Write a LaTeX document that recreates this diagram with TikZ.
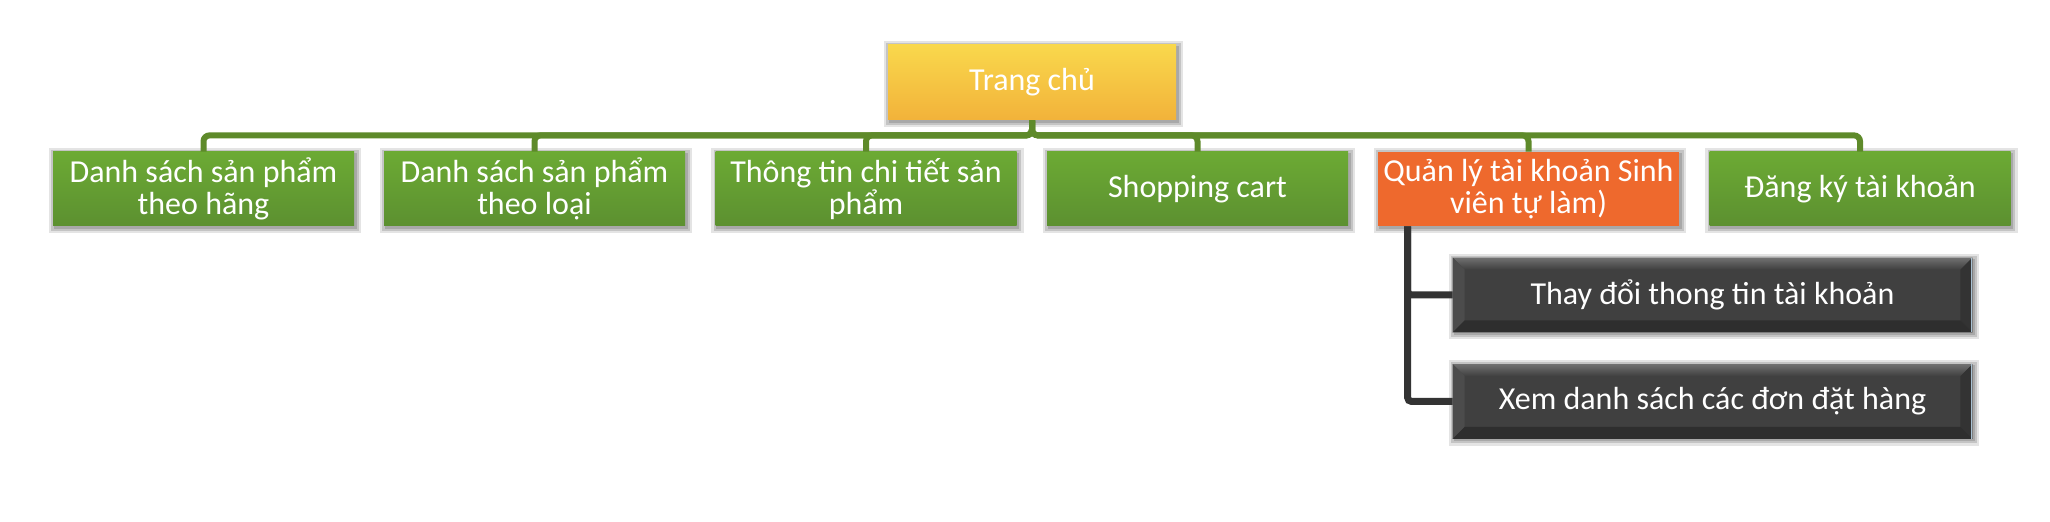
\documentclass[tikz,border=0pt]{standalone}
\usepackage{fontspec}
\setmainfont{Carlito}
\usetikzlibrary{calc}
\pgfdeclarelayer{background}
\pgfsetlayers{background,main}
\definecolor{gtop}{HTML}{6CAA34}
\definecolor{gbot}{HTML}{5C9030}
\definecolor{ytop}{HTML}{F9D84C}
\definecolor{ybot}{HTML}{F2B23A}
\definecolor{orng}{HTML}{EE692D}
\definecolor{dbase}{HTML}{404040}
\definecolor{gline}{HTML}{5E8A2A}
\definecolor{dline}{HTML}{333333}
\definecolor{shA}{HTML}{E4E4E4}
\definecolor{shB}{HTML}{C4C4C4}
\definecolor{shC}{HTML}{A8A8A8}
\tikzset{
  box/.style={rectangle, inner sep=0pt, minimum width=150.5pt, minimum height=37pt,
    align=center, text=white, font=\fontsize{16}{15.8}\selectfont},
  topbox/.style={box, minimum width=144pt, minimum height=37.5pt, top color=ytop, bottom color=ybot},
  greenbox/.style={box, top color=gtop, bottom color=gbot},
  orangebox/.style={box, fill=orng},
  darkbox/.style={box, minimum width=259.5pt, fill=dbase},
  greenline/.style={draw=gline, line width=3pt, rounded corners=3pt},
  darkline/.style={draw=dline, line width=3.5pt, rounded corners=2pt},
}
\newcommand{\softshadow}[1]{%
  \begin{pgfonlayer}{background}%
    \fill[shA] ([shift={(-2pt,2pt)}]#1.north west) rectangle ([shift={(3.5pt,-3.5pt)}]#1.south east);%
    \fill[shB] ([shift={(-0.8pt,0.8pt)}]#1.north west) rectangle ([shift={(2.2pt,-2.2pt)}]#1.south east);%
    \fill[shC] ([shift={(0.5pt,-0.5pt)}]#1.north west) rectangle ([shift={(1.2pt,-1.2pt)}]#1.south east);%
  \end{pgfonlayer}%
}
\newcommand{\mybevel}[1]{%
  \shade[top color=gray!60!black!80, bottom color=dbase]
    (#1.north west) -- (#1.north east) -- ([shift={(-6pt,-6pt)}]#1.north east) -- ([shift={(6pt,-6pt)}]#1.north west) -- cycle;
  \fill[black!70]
    (#1.north west) -- ([shift={(6pt,-6pt)}]#1.north west) -- ([shift={(6pt,6pt)}]#1.south west) -- (#1.south west) -- cycle;
  \fill[black!80]
    (#1.north east) -- ([shift={(-6pt,-6pt)}]#1.north east) -- ([shift={(-6pt,6pt)}]#1.south east) -- (#1.south east) -- cycle;
  \fill[black!82]
    (#1.south west) -- ([shift={(6pt,6pt)}]#1.south west) -- ([shift={(-6pt,6pt)}]#1.south east) -- (#1.south east) -- cycle;
  \draw[line width=0.8pt, color={rgb,255:red,170;green,195;blue,212}] ([xshift=-0.4pt]#1.north east) -- ([xshift=-0.4pt]#1.south east);
}
\begin{document}
\begin{tikzpicture}[x=0.5pt, y=0.5pt]
\begin{pgfonlayer}{background}
\fill[white] (0,0) rectangle (2050,-522);
\end{pgfonlayer}
\useasboundingbox (0,0) rectangle (2050,-522);
\node[topbox] (top) at (1032,-82.5) {Trang chủ};
\node[greenbox] (c1) at (203.5,-189) {Danh sách sản phẩm\\theo hãng};
\node[greenbox] (c2) at (534.5,-189) {Danh sách sản phẩm\\theo loại};
\node[greenbox] (c3) at (866,-189) {Thông tin chi tiết sản\\phẩm};
\node[greenbox] (c4) at (1197.5,-189) {Shopping cart};
\node[orangebox] (c5) at (1528.5,-189) {Quản lý tài khoản Sinh\\viên tự làm)};
\node[greenbox] (c6) at (1860,-189) {Đăng ký tài khoản};
\node[darkbox] (d1) at (1712.5,-295) {};
\mybevel{d1}
\node[box, minimum width=259.5pt] (t1) at (d1.center) {Thay đổi thong tin tài khoản};
\node[darkbox] (d2) at (1712.5,-401.5) {};
\mybevel{d2}
\node[box, minimum width=259.5pt] (t2) at (d2.center) {Xem danh sách các đơn đặt hàng};
\softshadow{top}
\softshadow{c1}
\softshadow{c2}
\softshadow{c3}
\softshadow{c4}
\softshadow{c5}
\softshadow{c6}
\softshadow{d1}
\softshadow{d2}
\foreach \c in {c1,c2,c3,c4,c5,c6}{%
  \draw[greenline] (top.south) -- ++(0,-15) -| (\c.north);
}
\draw[darkline] ([xshift=15pt]c5.south west) |- (d1.west);
\draw[darkline] ([xshift=15pt]c5.south west) |- (d2.west);
\end{tikzpicture}
\end{document}
